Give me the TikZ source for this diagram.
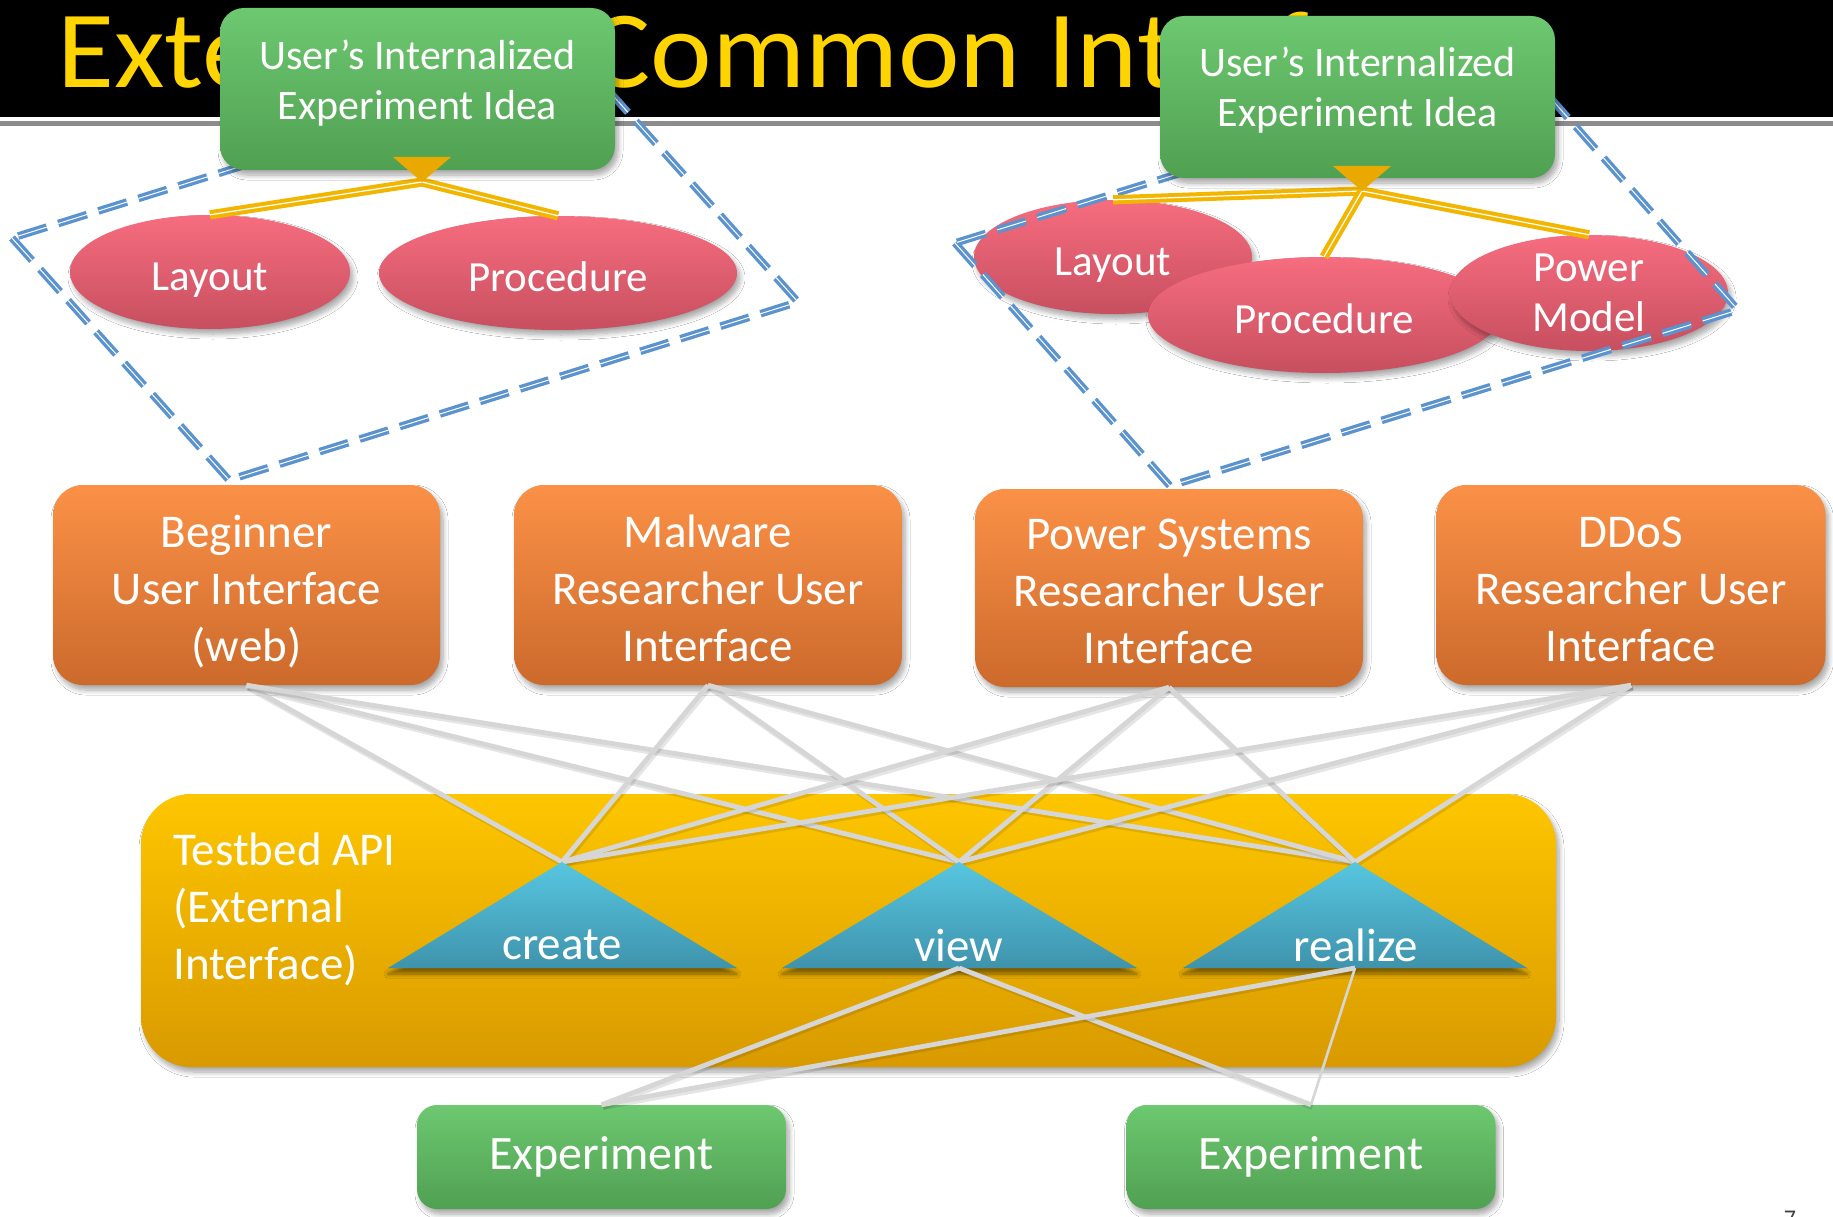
\documentclass[tikz,border=0pt]{standalone}
\usepackage{fontspec}
\setmainfont{Carlito}
\newfontfamily\headfont[FakeStretch=1.06]{Carlito}
\usetikzlibrary{shapes.geometric,shadows.blur,calc}

\definecolor{titleYellow}{HTML}{FFD400}
\definecolor{ideaTop}{HTML}{6DC870}
\definecolor{ideaBot}{HTML}{50A052}
\definecolor{ellTop}{HTML}{F66D7F}
\definecolor{ellBot}{HTML}{C74F5F}
\definecolor{uiTop}{HTML}{FB9147}
\definecolor{uiBot}{HTML}{CC6A2C}
\definecolor{apiTop}{HTML}{FEC600}
\definecolor{apiBot}{HTML}{D89A00}
\definecolor{triTop}{HTML}{57C6E0}
\definecolor{triBot}{HTML}{3F93AC}
\definecolor{markGold}{HTML}{E9A900}
\definecolor{linkGold}{HTML}{F2B600}
\definecolor{dashBlue}{HTML}{5B93CF}
\definecolor{wireGray}{HTML}{D6D6D6}

\begin{document}
\begin{tikzpicture}[x=1pt,y=-1pt,
  softshadow/.style={blur shadow={shadow xshift=3pt, shadow yshift=-5pt,
      shadow opacity=35, shadow blur steps=8, shadow blur radius=5pt}},
  ideabox/.style={rounded corners=24pt, top color=ideaTop, bottom color=ideaBot,
      softshadow, inner sep=0pt},
  ideatext/.style={text=white, align=center, inner sep=0pt,
      font=\fontsize{42}{50}\selectfont},
  uibox/.style={rounded corners=30pt, top color=uiTop, bottom color=uiBot,
      softshadow, inner sep=0pt},
  uitext/.style={text=white, align=center, inner sep=0pt,
      font=\fontsize{47}{57}\selectfont},
  expbox/.style={rounded corners=20pt, top color=ideaTop, bottom color=ideaBot,
      softshadow, text=white, inner sep=0pt, font=\fontsize{48}{57}\selectfont},
  pill/.style={ellipse, top color=ellTop, bottom color=ellBot, softshadow,
      text=white, align=center, inner sep=0pt,
      font=\fontsize{43}{50}\selectfont},
  oneline/.style={text height=36pt, text depth=0pt},
  apibox/.style={rounded corners=50pt, top color=apiTop, bottom color=apiBot,
      softshadow, inner sep=0pt},
  apitext/.style={text=white, align=left, inner sep=0pt,
      font=\fontsize{47}{57}\selectfont},
  opshape/.style={top color=triTop, bottom color=triBot,
      blur shadow={shadow xshift=0pt, shadow yshift=-6pt, shadow opacity=45,
      shadow blur steps=6, shadow blur radius=4pt}},
  optext/.style={text=white, inner sep=0pt, font=\fontsize{47}{57}\selectfont},
  dashbox/.style={draw=dashBlue, double=white, double distance=1pt,
      line width=3.3pt, dash pattern=on 30pt off 12pt},
  goldlink/.style={draw=linkGold, double=white, double distance=1.2pt,
      line width=4pt},
  wire/.style={draw=wireGray, line width=4.8pt,
      preaction={draw=black, opacity=0.10, line width=6pt,
      transform canvas={shift={(1.5pt,-2pt)}}}},
  thinwire/.style={draw=wireGray, line width=2.6pt},
  marker/.style={fill=markGold}
]
\useasboundingbox (0,0) rectangle (1833,1217);
\fill[white] (0,0) rectangle (1833,1217);

% title bar
\fill[black] (0,0) rectangle (1833,117);
\fill[black!45] (0,121) rectangle (1833,126);
\node[anchor=base west, inner sep=0pt, text=titleYellow,
      font=\headfont\fontsize{110}{110}\selectfont] (title) at (57,88)
      {Extensible\hspace{22pt} Common Interface};

% ---- left idea cluster
\node[pill, oneline, minimum width=280, minimum height=114] (lay1) at (210,272) {Layout};
\node[pill, oneline, minimum width=358, minimum height=114] (proc1) at (558,273) {Procedure};
\draw[dashbox] (12,238) -- (229,480) -- (798,302) -- (581,60) -- cycle;
\coordinate (tip1) at (422,182);
\draw[goldlink] (tip1) -- (lay1.north);
\draw[goldlink] (tip1) -- (proc1.north);
\node[ideabox, minimum width=395, minimum height=162] (idea1) at (417.5,89) {};
\node[ideatext] (idea1txt) at (417.5,83) {User’s Internalized\\Experiment Idea};
\fill[marker] ($(tip1)+(-29,-25)$) -- ($(tip1)+(29,-25)$) -- (tip1) -- cycle;

% ---- right idea cluster
\node[pill, oneline, minimum width=278, minimum height=114] (lay2) at (1113,257) {Layout};
\node[pill, oneline, minimum width=352, minimum height=116] (proc2) at (1324,315) {Procedure};
\node[pill, minimum width=278, minimum height=116] (pow2) at (1589,293) {Power\\Model};
\draw[dashbox] (955,243) -- (1170,486) -- (1738,310) -- (1523,67) -- cycle;
\coordinate (tip2) at (1362,191);
\draw[goldlink] (tip2) -- (lay2.north);
\draw[goldlink] (tip2) -- (proc2.north);
\draw[goldlink] (tip2) -- (pow2.north);
\node[ideabox, minimum width=395, minimum height=162] (idea2) at (1357.5,97) {};
\node[ideatext] (idea2txt) at (1357.5,90) {User’s Internalized\\Experiment Idea};
\fill[marker] ($(tip2)+(-29,-25)$) -- ($(tip2)+(29,-25)$) -- (tip2) -- cycle;

% ---- user interfaces
\node[uibox, minimum width=387, minimum height=200] (beg) at (246.5,585) {};
\node[uibox, minimum width=388, minimum height=200] (mal) at (708,585) {};
\node[uibox, minimum width=388, minimum height=198] (pws) at (1169,588) {};
\node[uibox, minimum width=389, minimum height=200] (ddos) at (1631,585) {};
\node[uitext] (begtxt) at (246.5,592) {Beginner\\User Interface\\(web)};
\node[uitext] (maltxt) at (708,588) {Malware\\Researcher User\\Interface};
\node[uitext] (pwstxt) at (1169,591) {Power Systems\\Researcher User\\Interface};
\node[uitext] (ddostxt) at (1631,589) {DDoS\\Researcher User\\Interface};

% ---- testbed API
\node[apibox, minimum width=1415, minimum height=273] (api) at (848.5,930.5) {};
\node[apitext, anchor=north west] (apitxt) at (173,833)
  {Testbed API\\(External\\Interface)};

\coordinate (cTop) at (562,862);
\coordinate (vTop) at (959,862);
\coordinate (rTop) at (1355,862);
\coordinate (cBase) at (562,968);
\coordinate (vBase) at (959,968);
\coordinate (rBase) at (1355,968);

% links from each interface to each operation
\foreach \ui in {beg,mal,pws,ddos}{
  \draw[wire] (\ui.south) -- (cTop);
  \draw[wire] (\ui.south) -- (vTop);
  \draw[wire] (\ui.south) -- (rTop);
}

% operations
\path[opshape] (cTop) -- ($(cBase)+(175,0)$) -- ($(cBase)+(-174,0)$) -- cycle;
\path[opshape] (vTop) -- ($(vBase)+(178,0)$) -- ($(vBase)+(-177,0)$) -- cycle;
\path[opshape] (rTop) -- ($(rBase)+(172,0)$) -- ($(rBase)+(-172,0)$) -- cycle;
\node[optext] (create) at (562,945) {create};
\node[optext] (view) at (959,945) {view};
\node[optext] (realize) at (1356,945) {realize};

% experiments
\node[expbox, minimum width=369, minimum height=104] (exp1) at (601.5,1157) {Experiment};
\node[expbox, minimum width=369, minimum height=104] (exp2) at (1311,1157) {Experiment};

\draw[wire] (vBase) -- (exp1.north);
\draw[wire] (vBase) -- (exp2.north);
\draw[wire] (rBase) -- (exp1.north);
\draw[thinwire] (rBase) -- (exp2.north);

% page number
\node[anchor=north, inner sep=0pt, text=black!75, font=\fontsize{24}{24}\selectfont]
  (pageno) at (1790,1211) {7};
\end{tikzpicture}
\end{document}
